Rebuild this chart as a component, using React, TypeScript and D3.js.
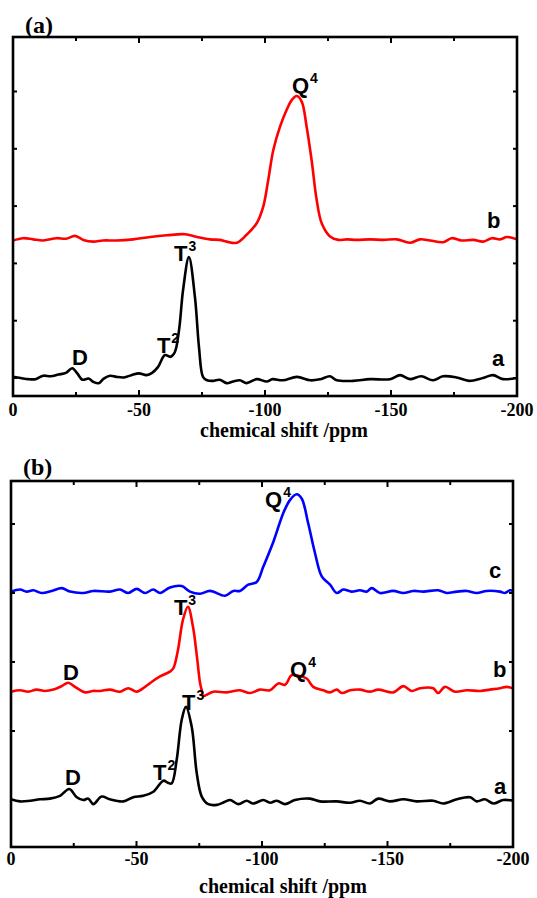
import React from "react";
import * as d3 from "d3";

type Pt = [number, number];

// x-axis ticks (ppm)
const ppmMajor = [0, -50, -100, -150, -200];
const ppmMinor = [-25, -75, -125, -175];
const tickLabels = ["0", "-50", "-100", "-150", "-200"];
const axisTitle = "chemical shift /ppm";

// y ticks (a.u.)
const yTicksA = [0, 1, 2, 3, 4, 5];
const yTicksB = [0, 1, 2, 3, 4];

// Panel (a) spectra: [ppm, intensity]
const panelA_a: Pt[] = [
  [0, 0.02], [-3, 0.0], [-6, -0.02], [-9, -0.02], [-12, 0.04], [-15, 0.03], [-18, 0.06], [-21, 0.09],
  [-23.5, 0.17], [-25.5, 0.08], [-27.5, -0.03], [-30, -0.01], [-32, -0.07], [-34, -0.09], [-36, -0.01],
  [-38.5, 0.04], [-41, 0.02], [-44, 0.01], [-47, 0.05], [-50, 0.08], [-53, 0.05], [-55.2, 0.09],
  [-57.5, 0.19], [-60.3, 0.4], [-62.5, 0.37], [-64.2, 0.45], [-65.9, 0.84], [-67.5, 1.54], [-69.8, 2.11],
  [-72.2, 1.41], [-73.8, 0.54], [-75.4, 0.02], [-77, -0.04], [-79.4, -0.05], [-82, -0.03], [-84.8, -0.09],
  [-87.4, -0.06], [-90, -0.04], [-92.7, -0.09], [-96.7, -0.02], [-100.7, -0.06], [-103, -0.02],
  [-107, -0.04], [-112.7, 0.02], [-118, -0.04], [-122, -0.02], [-125.8, 0.03], [-128.5, -0.04],
  [-135, -0.05], [-141.7, -0.02], [-149.6, -0.02], [-153.6, 0.05], [-157.5, -0.02], [-162, 0.03],
  [-166.7, -0.04], [-170.6, 0.03], [-176, 0.01], [-181, -0.05], [-186.5, 0.0], [-190.5, 0.05],
  [-194.4, -0.02], [-200, 0.0],
];
const panelA_b: Pt[] = [
  [0, 2.4], [-4, 2.44], [-8, 2.42], [-12, 2.4], [-17.3, 2.44], [-21, 2.43], [-24.6, 2.48], [-27.9, 2.41],
  [-31.9, 2.38], [-35.7, 2.4], [-41, 2.4], [-47.7, 2.42], [-54.4, 2.46], [-61, 2.49], [-68.3, 2.51],
  [-73, 2.46], [-78.2, 2.42], [-82, 2.41], [-84.8, 2.38], [-88.8, 2.36], [-92.7, 2.5], [-96.7, 2.7],
  [-99.3, 2.99], [-101.3, 3.46], [-103.3, 3.98], [-106, 4.39], [-108.6, 4.68], [-110.6, 4.85],
  [-112.6, 4.92], [-114.6, 4.82], [-116.5, 4.39], [-118.5, 3.8], [-120.5, 3.11], [-122.5, 2.7],
  [-125.8, 2.47], [-129.1, 2.41], [-132.4, 2.42], [-136.4, 2.41], [-141.7, 2.42], [-147, 2.41],
  [-152.3, 2.42], [-157.5, 2.36], [-161.5, 2.42], [-165.5, 2.4], [-170.8, 2.37], [-174, 2.44],
  [-178, 2.4], [-182.7, 2.41], [-186.6, 2.38], [-190, 2.44], [-193.3, 2.42], [-196, 2.46], [-200, 2.42],
];

// Panel (b) spectra
const panelB_a: Pt[] = [
  [0, 0.01], [-3.6, -0.02], [-7.6, -0.01], [-11.6, 0.01], [-15.5, 0.02], [-19.5, 0.06], [-23.2, 0.16],
  [-26.2, 0.04], [-28.8, 0.0], [-30.8, 0.02], [-32.8, -0.06], [-36.1, 0.05], [-39.4, 0.01], [-44.7, -0.02],
  [-48.7, 0.04], [-52.7, 0.06], [-56.7, 0.12], [-60.7, 0.28], [-62.5, 0.25], [-64, 0.24], [-66, 0.58],
  [-68, 1.16], [-69.7, 1.35], [-72, 1.06], [-74, 0.39], [-76, 0.05], [-78.6, -0.06], [-82, -0.07],
  [-85, -0.03], [-87.3, 0.0], [-90.6, -0.06], [-93.9, -0.01], [-96.5, -0.05], [-100.5, 0.0],
  [-103.2, -0.04], [-105.9, -0.01], [-109.2, -0.06], [-113.1, 0.0], [-119.1, 0.02], [-123.1, -0.02],
  [-129.8, -0.02], [-135.1, -0.04], [-139, -0.01], [-143, -0.05], [-146.3, 0.02], [-151, -0.02],
  [-156.3, 0.01], [-161.6, -0.02], [-168.2, -0.01], [-172.2, -0.05], [-177.6, 0.01], [-182.9, 0.04],
  [-185.5, -0.02], [-188.8, 0.01], [-192.2, -0.05], [-196.1, 0.0], [-200, -0.01],
];
const panelB_b: Pt[] = [
  [0, 1.57], [-3.6, 1.59], [-6.9, 1.57], [-10.2, 1.6], [-13.5, 1.58], [-16.9, 1.6], [-20.2, 1.65],
  [-22.8, 1.7], [-25.5, 1.64], [-29.5, 1.56], [-32.5, 1.58], [-35.5, 1.58], [-39.4, 1.6], [-43.4, 1.57],
  [-46.7, 1.62], [-50.1, 1.57], [-53.4, 1.64], [-56, 1.71], [-59.4, 1.79], [-63.3, 1.86], [-64.7, 1.91],
  [-66.5, 2.17], [-68.5, 2.61], [-70.5, 2.8], [-72.5, 2.51], [-74.1, 2.07], [-75.3, 1.7], [-76, 1.59],
  [-76.6, 1.51], [-80.6, 1.57], [-85.9, 1.56], [-91.2, 1.59], [-95.2, 1.55], [-99.2, 1.6], [-103.2, 1.59],
  [-106.5, 1.69], [-109.2, 1.67], [-111.8, 1.81], [-114.5, 1.8], [-117.8, 1.76], [-120.4, 1.64],
  [-124.4, 1.59], [-127.1, 1.56], [-129.8, 1.6], [-131.8, 1.55], [-135.1, 1.59], [-139, 1.6],
  [-143, 1.57], [-146.3, 1.6], [-152.3, 1.56], [-156.3, 1.65], [-159.6, 1.58], [-163, 1.62],
  [-168.2, 1.62], [-170.2, 1.55], [-172.9, 1.64], [-176.9, 1.57], [-181.6, 1.59], [-186.9, 1.58],
  [-190.8, 1.6], [-194.8, 1.62], [-197.5, 1.64], [-200, 1.62],
];
const panelB_c: Pt[] = [
  [0, 3.02], [-3.6, 3.05], [-6.2, 3.02], [-8.9, 3.04], [-12.2, 3.0], [-16.2, 3.03], [-20.2, 3.07],
  [-23.5, 3.02], [-28.8, 3.0], [-32.8, 3.03], [-39.4, 3.02], [-43.4, 3.05], [-46.7, 3.0], [-50.1, 3.06],
  [-53.4, 3.0], [-56.7, 3.05], [-59.4, 3.0], [-63.3, 3.08], [-68, 3.1], [-71.3, 3.02], [-75.3, 2.99],
  [-79.3, 3.03], [-85.3, 2.96], [-88.6, 3.03], [-91.2, 3.03], [-94.5, 3.12], [-97.9, 3.16],
  [-100.5, 3.38], [-104.5, 3.74], [-108.5, 4.16], [-111.2, 4.35], [-113.8, 4.43], [-115.8, 4.37],
  [-118.4, 4.01], [-121.1, 3.58], [-123.8, 3.24], [-127.1, 3.12], [-129.8, 3.0], [-132.4, 3.05],
  [-135.7, 3.02], [-139, 3.04], [-141.7, 3.02], [-143.7, 3.07], [-147, 3.0], [-152.3, 3.03],
  [-156.3, 3.0], [-160.3, 3.03], [-164.3, 3.02], [-170.2, 3.04], [-173.6, 3.0], [-177.6, 3.02],
  [-181.6, 3.03], [-185.5, 3.0], [-189.5, 3.03], [-194.8, 3.02], [-196.8, 3.0], [-198.8, 3.04],
  [-200, 3.03],
];

// Annotations: [main, superscript, ppm, intensity]
type Lab = [string, string, number, number];
const labelsA: Lab[] = [
  ["Q", "4", -110.7, 4.97],
  ["T", "3", -63.9, 2.04],
  ["T", "2", -57.1, 0.44],
  ["D", "", -23.4, 0.23],
  ["a", "", -190.1, 0.21],
  ["b", "", -188.1, 2.62],
];
const labelsB: Lab[] = [
  ["Q", "4", -101.2, 4.25],
  ["c", "", -190.4, 3.22],
  ["T", "3", -64.9, 2.68],
  ["D", "", -20.7, 1.74],
  ["Q", "4", -111.2, 1.78],
  ["b", "", -192.0, 1.78],
  ["T", "3", -68.1, 1.3],
  ["T", "2", -56.6, 0.29],
  ["D", "", -21.5, 0.22],
  ["a", "", -192.4, 0.09],
];

interface PanelProps {
  tag: string;
  left: number;
  right: number;
  top: number;
  bottom: number;
  yDomain: [number, number];
  yTicks: number[];
  series: { data: Pt[]; color: string }[];
  labels: Lab[];
  tagX: number;
  tagY: number;
  tickLabelDy: number;
  titleDy: number;
  titleX: number;
}

const SANS = "'Liberation Sans', Arial, sans-serif";
const SERIF = "'Liberation Serif', 'Times New Roman', serif";

function Panel(p: PanelProps) {
  const x = d3.scaleLinear().domain([0, -200]).range([p.left, p.right]);
  const y = d3.scaleLinear().domain(p.yDomain).range([p.bottom, p.top]);
  const line = d3
    .line<Pt>()
    .x((d) => x(d[0]))
    .y((d) => y(d[1]))
    .curve(d3.curveCatmullRom.alpha(0.5));
  return (
    <g>
      <text x={p.tagX} y={p.tagY} fontFamily={SERIF} fontWeight="bold" fontSize={24}>
        {p.tag}
      </text>
      {p.series.map((s, i) => (
        <path key={i} d={line(s.data) || ""} fill="none" stroke={s.color} strokeWidth={2.6} strokeLinejoin="round" />
      ))}
      {p.labels.map((l, i) => (
        <text key={i} x={x(l[2])} y={y(l[3])} fontFamily={SANS} fontWeight="bold" fontSize={22} fill="#000">
          {l[0]}
          {l[1] ? (
            <tspan dx={1} dy={-10} fontSize={14}>
              {l[1]}
            </tspan>
          ) : null}
        </text>
      ))}
      {/* frame */}
      <rect x={p.left} y={p.top} width={p.right - p.left} height={p.bottom - p.top} fill="none" stroke="#000" strokeWidth={2.6} />
      {/* x ticks bottom & top */}
      {ppmMajor.map((t) => (
        <g key={"M" + t}>
          <line x1={x(t)} x2={x(t)} y1={p.bottom} y2={p.bottom - 6} stroke="#000" strokeWidth={2} />
          <line x1={x(t)} x2={x(t)} y1={p.top} y2={p.top + 6} stroke="#000" strokeWidth={2} />
        </g>
      ))}
      {ppmMinor.map((t) => (
        <g key={"m" + t}>
          <line x1={x(t)} x2={x(t)} y1={p.bottom} y2={p.bottom - 4} stroke="#000" strokeWidth={2} />
          <line x1={x(t)} x2={x(t)} y1={p.top} y2={p.top + 4} stroke="#000" strokeWidth={2} />
        </g>
      ))}
      {p.yTicks.map((t) => (
        <g key={"y" + t}>
          <line x1={p.left} x2={p.left + 4} y1={y(t)} y2={y(t)} stroke="#000" strokeWidth={2} />
          <line x1={p.right} x2={p.right - 4} y1={y(t)} y2={y(t)} stroke="#000" strokeWidth={2} />
        </g>
      ))}
      {ppmMajor.map((t, i) => (
        <text key={"l" + t} x={x(t)} y={p.bottom + p.tickLabelDy} textAnchor="middle" fontFamily={SERIF} fontWeight="bold" fontSize={18}>
          {tickLabels[i]}
        </text>
      ))}
      <text x={p.titleX} y={p.bottom + p.titleDy} textAnchor="middle" fontFamily={SERIF} fontWeight="bold" fontSize={20}>
        {axisTitle}
      </text>
    </g>
  );
}

export default function App() {
  return (
    <svg width={537} height={898} style={{ position: "absolute", left: 0, top: 0, background: "#fff" }}>
      <rect x={0} y={0} width={537} height={898} fill="#fff" />
      <Panel
        tag="(a)"
        left={13}
        right={517}
        top={37}
        bottom={396}
        yDomain={[-0.314, 5.951]}
        yTicks={yTicksA}
        series={[
          { data: panelA_b, color: "#ff0000" },
          { data: panelA_a, color: "#000000" },
        ]}
        labels={labelsA}
        tagX={25}
        tagY={33}
        tickLabelDy={20}
        titleDy={41}
        titleX={284}
      />
      <Panel
        tag="(b)"
        left={11}
        right={513}
        top={481}
        bottom={847}
        yDomain={[-0.681, 4.623]}
        yTicks={yTicksB}
        series={[
          { data: panelB_c, color: "#0000ff" },
          { data: panelB_b, color: "#ff0000" },
          { data: panelB_a, color: "#000000" },
        ]}
        labels={labelsB}
        tagX={23}
        tagY={475}
        tickLabelDy={18}
        titleDy={46}
        titleX={283}
      />
    </svg>
  );
}
